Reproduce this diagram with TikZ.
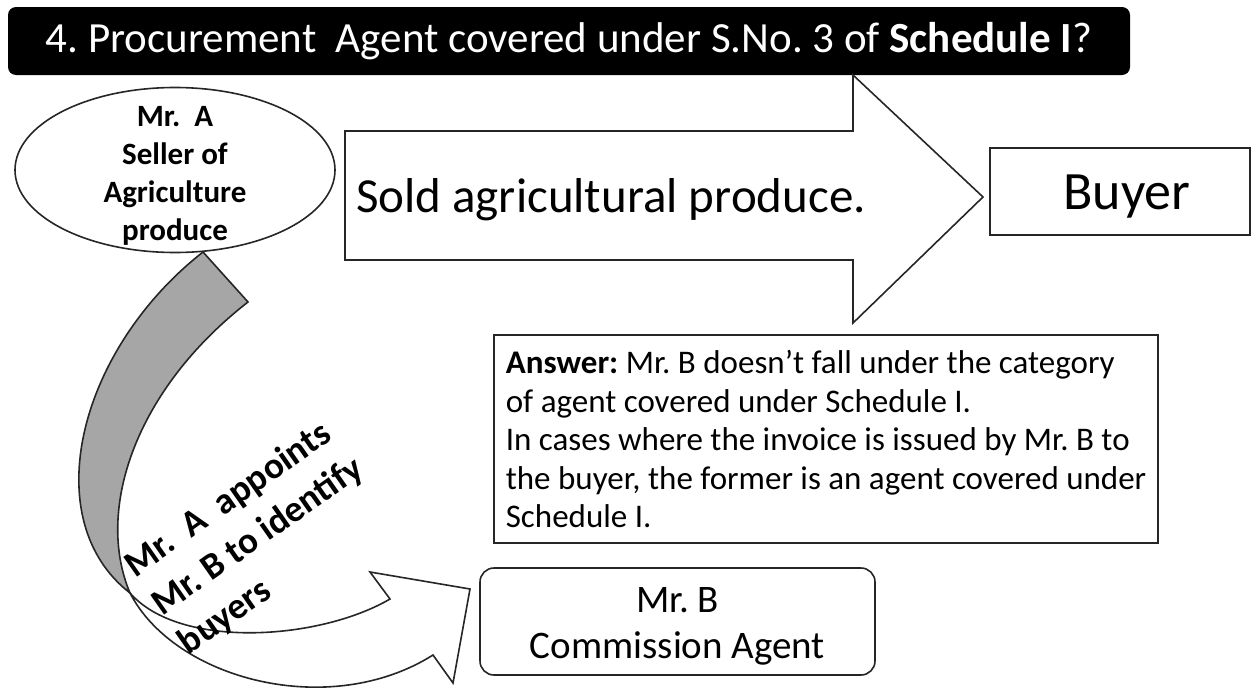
\documentclass[tikz,border=0pt]{standalone}
\usepackage{fontspec}
\setmainfont{Carlito}
\usetikzlibrary{positioning}
\usetikzlibrary{shapes.geometric}
\definecolor{bandgray}{gray}{0.65}
\tikzset{
  outline/.style={draw=black!85,line width=1.6pt},
  box/.style={outline,fill=white,inner sep=0pt},
}
\frenchspacing

\begin{document}
\begin{tikzpicture}[x=1pt,y=-1pt]
        \useasboundingbox (0,0) rectangle (1258,688);

        % title bar
        \node[fill=black,rounded corners=8pt,minimum width=1122pt,minimum height=68pt,text=white,font=\fontsize{43}{50}\selectfont] (title) at (569,41) {4. Procurement~ Agent covered under S.No. 3 of \textbf{Schedule I}?};

        % seller
        \node[box,ellipse,minimum width=320pt,minimum height=165pt] (seller) at (175,170) {};
        \node[align=center,font=\bfseries\fontsize{31}{38}\selectfont] (sellertext) at ([yshift=-6pt]seller.center) {Mr.~~A\\Seller of\\Agriculture\\produce};

        % sale arrow
        \draw[outline,fill=white] (345,131) -- (853,131) -- (853,75) -- (983,197) -- (853,323) -- (853,260) -- (345,260) -- cycle;
        \node[font=\fontsize{49}{56}\selectfont] (sale) at (611,200) {Sold agricultural produce.};

        \node[box,minimum width=260pt,minimum height=87pt] (buyer) at (1120,191.5) {};
        \node[font=\fontsize{54}{60}\selectfont] (buyertext) at ([xshift=7pt,yshift=-5pt]buyer.center) {Buyer};

        \node[box,minimum width=664pt,minimum height=208pt,align=left,font=\fontsize{33}{38.5}\selectfont] (answer) at (826,439) {\textbf{Answer:} Mr. B doesn’t fall under the category\\of agent covered under Schedule I.\\In cases where the invoice is issued by Mr. B to\\the buyer, the former is an agent covered under\\Schedule I.};

        \node[box,rounded corners=14pt,minimum width=395pt,minimum height=107pt] (agent) at (677.5,621.5) {};
        \node[align=center,font=\fontsize{39}{46}\selectfont] (agenttext) at ([yshift=-5pt]agent.center) {Mr. B\\Commission Agent};

        % appointing arrow
        \draw[outline,fill=bandgray] (203,252) .. controls (78,350) and (36,520) .. (130,593) .. controls (95,510) and (135,390) .. (248,302) -- cycle;
        \draw[outline,fill=white] (130,593) .. controls (175,680) and (330,720) .. (433,655) -- (453,683) -- (470,589) -- (370,572) -- (390,599) .. controls (320,640) and (180,650) .. (130,593) -- cycle;
        \node[rotate=35,align=left,font=\bfseries\fontsize{37}{47}\selectfont] (appoint) at (258,537) {Mr.~~A~~appoints\\Mr. B to identify\\buyers};
\end{tikzpicture}
\end{document}
